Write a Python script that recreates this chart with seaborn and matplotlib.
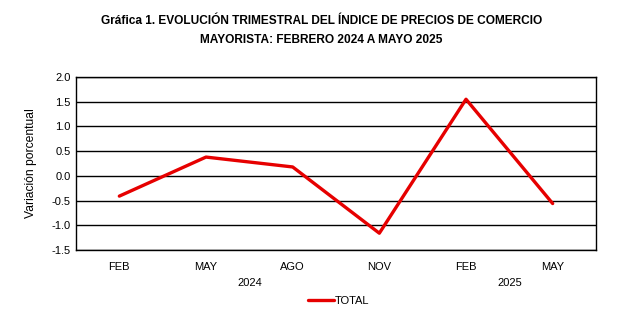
import matplotlib
matplotlib.use("Agg")
import matplotlib.pyplot as plt
import seaborn as sns
import pandas as pd
from matplotlib.lines import Line2D

months = ["FEB", "MAY", "AGO", "NOV", "FEB", "MAY"]
years = ["2024", "2025"]
year_spans = [(0, 3), (4, 5)]
values = [-0.41, 0.38, 0.18, -1.16, 1.55, -0.56]
series_name = "TOTAL"
yticks = [-1.5, -1.0, -0.5, 0.0, 0.5, 1.0, 1.5, 2.0]

sns.set_theme(style="white")
plt.rcParams['font.family'] = ['Liberation Sans', 'DejaVu Sans']
plt.rcParams['text.color'] = 'black'
plt.rcParams['xtick.color'] = 'black'
plt.rcParams['ytick.color'] = 'black'
plt.rcParams['axes.labelcolor'] = 'black'

df = pd.DataFrame({"pos": range(len(months)), "val": values, "serie": series_name})

W, H = 635, 335
fig = plt.figure(figsize=(6.35, 3.35), dpi=100)
ax = fig.add_axes([76/W, 1 - 250/H, (596-76)/W, (250-77)/H])

red = "#e60000"
sns.lineplot(data=df, x="pos", y="val", hue="serie", palette=[red],
             linewidth=2.4, ax=ax, legend=False, sort=False)

ax.set_xlim(-0.5, len(months) - 0.5)
ax.set_ylim(-1.5, 2.0)
ax.set_yticks(yticks)
ax.set_yticklabels([f"{v:.1f}" for v in yticks], fontsize=8)
ax.set_xticks(range(len(months)))
ax.set_xticklabels(months, fontsize=8)
ax.tick_params(axis='x', pad=9, length=0)
ax.tick_params(axis='y', pad=4, length=0)
ax.grid(axis='y', color='black', linewidth=1.0)
ax.set_axisbelow(True)
for s in ax.spines.values():
    s.set_color('black')
    s.set_linewidth(1.0)
ax.set_xlabel("")
ax.set_ylabel("Variación porcentual", fontsize=8.7, labelpad=10)

for yr, (a, b) in zip(years, year_spans):
    ax.text((a + b) / 2, -0.19, yr, transform=ax.get_xaxis_transform(),
            ha='center', va='center', fontsize=8)

fig.text(321.5/W, 1 - 21/H, "Gráfica 1. EVOLUCIÓN TRIMESTRAL DEL ÍNDICE DE PRECIOS DE COMERCIO",
         ha='center', va='center', fontsize=8.6, fontweight='bold')
fig.text(321.5/W, 1 - 40/H, "MAYORISTA: FEBRERO 2024 A MAYO 2025",
         ha='center', va='center', fontsize=8.6, fontweight='bold')

handle = Line2D([], [], color=red, linewidth=2.4)
fig.legend([handle], [series_name], loc='center', bbox_to_anchor=(339/W, 1 - 301/H),
           frameon=False, fontsize=8, handlelength=2.3, handletextpad=0.1)

fig.savefig("out.png", dpi=100)
